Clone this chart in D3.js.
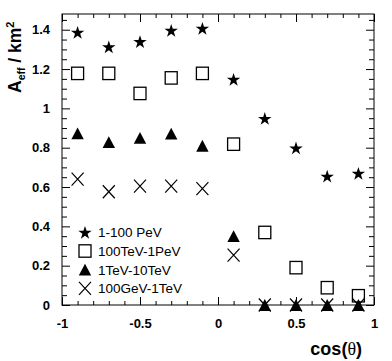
<!DOCTYPE html>
<html><head><meta charset="utf-8">
<script src="https://cdn.jsdelivr.net/npm/d3@7"></script>
<style>body{margin:0;background:#fff}svg{display:block}text{font-family:"Liberation Sans",Arial,sans-serif}</style>
</head><body><svg id="c" width="392" height="361"></svg>
<script>
const cosTheta = [-0.9,-0.7,-0.5,-0.3,-0.1,0.1,0.3,0.5,0.7,0.9];
const pev1to100   = [1.387,1.313,1.340,1.397,1.407,1.148,0.949,0.799,0.655,0.670];
const tev100to1pev= [1.178,1.178,1.076,1.155,1.178,0.818,0.369,0.190,0.088,0.047];
const tev1to10    = [0.873,0.828,0.850,0.872,0.810,0.350,0.0,0.0,0.0,0.0];
const gev100to1tev= [0.640,0.576,0.605,0.605,0.592,0.254,0.0,0.0,0.0,0.0];
const legendLabels = ["1-100 PeV","100TeV-1PeV","1TeV-10TeV","100GeV-1TeV"];
const xMajor = [-1,-0.5,0,0.5,1];
const xMinor = [-0.9,-0.8,-0.7,-0.6,-0.4,-0.3,-0.2,-0.1,0.1,0.2,0.3,0.4,0.6,0.7,0.8,0.9];
const yMajor = [0,0.2,0.4,0.6,0.8,1,1.2,1.4];
const yMinor = [0.05,0.1,0.15,0.25,0.3,0.35,0.45,0.5,0.55,0.65,0.7,0.75,0.85,0.9,0.95,1.05,1.1,1.15,1.25,1.3,1.35,1.45];

const svg = d3.select("#c");
const m = {l:62, r:18, t:14, b:56};
const W = 392 - m.l - m.r, H = 361 - m.t - m.b;
const g = svg.append("g").attr("transform",`translate(${m.l},${m.t})`);
const x = d3.scaleLinear().domain([-1,1]).range([0,W]);
const y = d3.scaleLinear().domain([0,1.48]).range([H,0]);

function styleAxis(sel){
  sel.select(".domain").remove();
  sel.selectAll("line").attr("stroke","#000").attr("stroke-width",1);
  sel.selectAll("text").attr("font-size",13).attr("font-weight","bold").attr("fill","#000");
}
const fmt = d => String(d);
g.append("g").attr("transform",`translate(0,${H})`).call(d3.axisBottom(x).tickValues(xMajor).tickSize(-8).tickPadding(14).tickFormat(fmt)).call(styleAxis);
g.append("g").attr("transform",`translate(0,${H})`).call(d3.axisBottom(x).tickValues(xMinor).tickSize(-4).tickFormat("")).call(styleAxis);
g.append("g").call(d3.axisTop(x).tickValues(xMajor).tickSize(-8).tickFormat("")).call(styleAxis);
g.append("g").call(d3.axisTop(x).tickValues(xMinor).tickSize(-4).tickFormat("")).call(styleAxis);
g.append("g").call(d3.axisLeft(y).tickValues(yMajor).tickSize(-8).tickPadding(12).tickFormat(fmt)).call(styleAxis);
g.append("g").call(d3.axisLeft(y).tickValues(yMinor).tickSize(-5).tickFormat("")).call(styleAxis);
g.append("g").attr("transform",`translate(${W},0)`).call(d3.axisRight(y).tickValues(yMajor).tickSize(-8).tickFormat("")).call(styleAxis);
g.append("g").attr("transform",`translate(${W},0)`).call(d3.axisRight(y).tickValues(yMinor).tickSize(-5).tickFormat("")).call(styleAxis);

g.append("rect").attr("x",0).attr("y",0).attr("width",W).attr("height",H)
 .attr("fill","none").attr("stroke","#000").attr("stroke-width",1);

const star = d3.symbol().type(d3.symbolStar).size(56);
function drawStar(sel,cx,cy){ sel.append("path").attr("d",star()).attr("transform",`translate(${cx},${cy})`).attr("fill","#000"); }
function drawSquare(sel,cx,cy){ sel.append("rect").attr("x",cx-6).attr("y",cy-6.2).attr("width",12).attr("height",12.4).attr("fill","none").attr("stroke","#000").attr("stroke-width",1.3); }
function drawTri(sel,cx,cy){ sel.append("path").attr("d",`M${cx-6.2},${cy+5.9}L${cx+6.2},${cy+5.9}L${cx},${cy-5.9}Z`).attr("fill","#000"); }
function drawCross(sel,cx,cy){ sel.append("path").attr("d",`M${cx-6},${cy-6.5}L${cx+6},${cy+6.5}M${cx-6},${cy+6.5}L${cx+6},${cy-6.5}`).attr("stroke","#000").attr("stroke-width",1.2).attr("fill","none"); }

const r = Math.sqrt(56*0.8908130915292852);
const starOff = (r - 0.809*r)/2;
const pts = g.append("g");
cosTheta.forEach((c,i)=>drawStar(pts, x(c), y(pev1to100[i])+starOff));
cosTheta.forEach((c,i)=>drawSquare(pts, x(c), y(tev100to1pev[i])));
cosTheta.forEach((c,i)=>drawCross(pts, x(c), y(gev100to1tev[i])));
cosTheta.forEach((c,i)=>drawTri(pts, x(c), y(tev1to10[i])));

const drawers = [drawStar, drawSquare, drawTri, drawCross];
const leg = svg.append("g");
legendLabels.forEach((t,i)=>{
  const cy = 232.3 + i*18.7;
  drawers[i](leg, 85, cy + (i===0?starOff:0));
  leg.append("text").attr("x",98).attr("y",cy+4.8).attr("font-size",13.5).text(t);
});

const yt = svg.append("text").attr("transform","translate(21,93) rotate(-90)")
  .attr("font-size",17.5).attr("font-weight","bold").attr("text-anchor","start");
yt.append("tspan").text("A");
yt.append("tspan").attr("font-size",10.5).attr("dy",4).text("eff");
yt.append("tspan").attr("dy",-4).text(" / km");
yt.append("tspan").attr("font-size",11).attr("dy",-7).text("2");

const xt = svg.append("text").attr("x",362).attr("y",355).attr("text-anchor","end")
  .attr("font-size",18).attr("font-weight","bold");
xt.append("tspan").text("cos(");
xt.append("tspan").attr("font-family","'Liberation Serif','DejaVu Serif',serif").attr("font-weight","normal").text("θ");
xt.append("tspan").text(")");
</script></body></html>
